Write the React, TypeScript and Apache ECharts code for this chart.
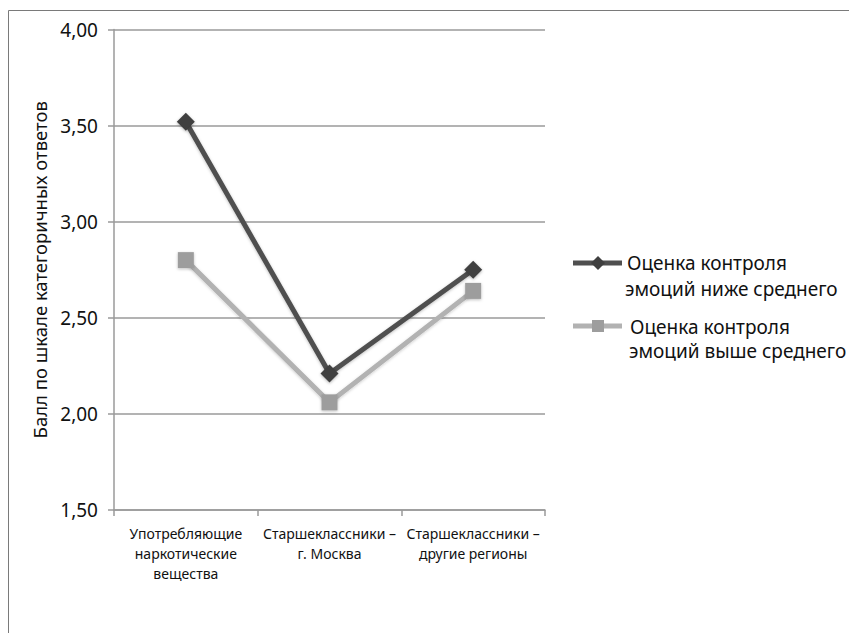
import React, { useEffect, useRef } from "react";
import * as echarts from "echarts";

const categories = [
  "Употребляющие\nнаркотические\nвещества",
  "Старшеклассники –\nг. Москва",
  "Старшеклассники –\nдругие регионы",
];
const seriesNames = ["Оценка контроля эмоций ниже среднего", "Оценка контроля эмоций выше среднего"];
const belowAverage = [3.52, 2.21, 2.75];
const aboveAverage = [2.8, 2.06, 2.64];
const yTicks = { min: 1.5, max: 4.0, interval: 0.5 };
const yAxisTitle = "Балл по шкале категоричных ответов";

const FONT = "'Noto Sans', 'Open Sans', sans-serif";
const DARK = "#4f4f4f";
const DARK_MARK = "#3f3f3f";
const LIGHT = "#b2b2b2";
const LIGHT_MARK = "#9d9d9d";
const LEGEND_FONT = `19px ${FONT}`;

export default function App() {
  const ref = useRef<HTMLDivElement>(null);
  useEffect(() => {
    document.body.style.margin = "0";
    const chart = echarts.init(ref.current!, null, { renderer: "svg" });
    chart.setOption({
      animation: false,
      backgroundColor: "#ffffff",
      grid: { left: 114, right: 304, top: 29.5, bottom: 123, containLabel: false },
      xAxis: {
        type: "category",
        data: categories,
        boundaryGap: true,
        axisLine: { lineStyle: { color: "#9a9a9a", width: 1.5 } },
        axisTick: { show: true, length: 6, lineStyle: { color: "#9a9a9a", width: 1.5 } },
        axisLabel: {
          color: "#111",
          fontFamily: FONT,
          fontSize: 14,
          lineHeight: 20,
          margin: 13,
          interval: 0,
        },
      },
      yAxis: {
        type: "value",
        min: yTicks.min,
        max: yTicks.max,
        interval: yTicks.interval,
        name: yAxisTitle,
        nameLocation: "middle",
        nameRotate: 90,
        nameGap: 62,
        nameTextStyle: { color: "#111", fontFamily: FONT, fontSize: 18.5 },
        axisLine: { show: true, lineStyle: { color: "#9a9a9a", width: 1.5 } },
        axisTick: { show: true, length: 6, lineStyle: { color: "#9a9a9a", width: 1.5 } },
        splitLine: { show: true, lineStyle: { color: "#9a9a9a", width: 1.5 } },
        axisLabel: {
          color: "#111",
          fontFamily: FONT,
          fontSize: 19,
          margin: 16,
          formatter: (v: number) => v.toFixed(2).replace(".", ","),
        },
      },
      series: [
        {
          name: seriesNames[0],
          type: "line",
          data: belowAverage,
          symbol: "diamond",
          symbolSize: 18,
          lineStyle: { color: DARK, width: 5, shadowBlur: 3, shadowColor: "rgba(0,0,0,0.25)", shadowOffsetY: 1 },
          itemStyle: { color: DARK_MARK, shadowBlur: 3, shadowColor: "rgba(0,0,0,0.3)", shadowOffsetY: 1 },
          z: 3,
        },
        {
          name: seriesNames[1],
          type: "line",
          data: aboveAverage,
          symbol: "rect",
          symbolSize: 16,
          lineStyle: { color: LIGHT, width: 5, shadowBlur: 3, shadowColor: "rgba(0,0,0,0.2)", shadowOffsetY: 1 },
          itemStyle: { color: LIGHT_MARK, shadowBlur: 3, shadowColor: "rgba(0,0,0,0.25)", shadowOffsetY: 1 },
          z: 2,
        },
      ],
      graphic: [
        {
          type: "rect",
          shape: { x: 8.5, y: 10.5, width: 900, height: 700 },
          style: { fill: "none", stroke: "#7a7a7a", lineWidth: 1 },
          silent: true,
          z: -10,
        },
        {
          type: "line",
          shape: { x1: 573, y1: 263, x2: 622, y2: 263 },
          style: { stroke: DARK, lineWidth: 5 },
        },
        {
          type: "polygon",
          shape: { points: [[598, 256], [605, 263], [598, 270], [591, 263]] },
          style: { fill: DARK_MARK },
        },
        {
          type: "text",
          x: 627,
          y: 263,
          style: { text: "Оценка контроля", font: LEGEND_FONT, fill: "#111", verticalAlign: "middle" },
        },
        {
          type: "text",
          x: 625,
          y: 289,
          style: { text: "эмоций ниже среднего", font: LEGEND_FONT, fill: "#111", verticalAlign: "middle" },
        },
        {
          type: "line",
          shape: { x1: 573, y1: 326, x2: 622, y2: 326 },
          style: { stroke: LIGHT, lineWidth: 5 },
        },
        {
          type: "rect",
          shape: { x: 592, y: 320, width: 12, height: 12 },
          style: { fill: LIGHT_MARK },
        },
        {
          type: "text",
          x: 630,
          y: 327,
          style: { text: "Оценка контроля", font: LEGEND_FONT, fill: "#111", verticalAlign: "middle" },
        },
        {
          type: "text",
          x: 629,
          y: 351,
          style: { text: "эмоций выше среднего", font: LEGEND_FONT, fill: "#111", verticalAlign: "middle" },
        },
      ],
    });
    return () => chart.dispose();
  }, []);
  return <div ref={ref} style={{ width: 849, height: 633 }} />;
}
